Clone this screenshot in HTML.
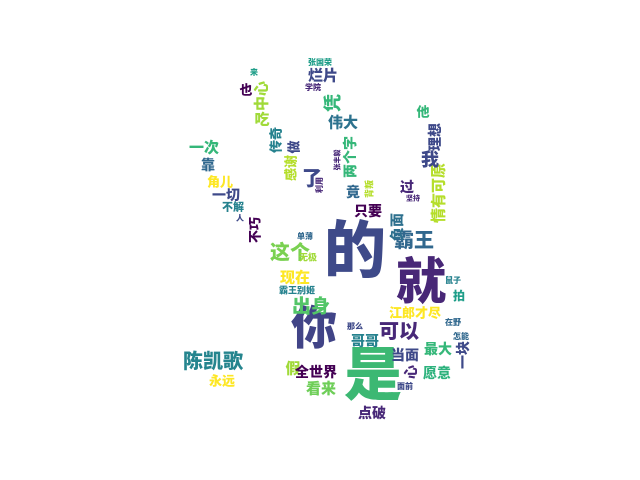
<!DOCTYPE html>
<html><head><meta charset="utf-8">
<style>
body{margin:0;background:#fff}
#cloud{position:relative;width:640px;height:480px;overflow:hidden;background:#fff}
#cloud span{position:absolute;white-space:nowrap;font-family:"Liberation Sans","Noto Sans CJK SC",sans-serif;font-weight:900;line-height:1;transform:translate(-50%,-50%)}
#cloud span.v{transform:translate(-50%,-50%) rotate(-90deg)}
</style></head>
<body>
<div id="cloud"></div>
<script>
const words=["的","就","是","你","陈凯歌","永远","出身","这个","现在","霸王别姬","无极","单薄","假","全世界","看来","可以","江郎才尽","哥哥","那么","在野","当面","最大","怎能","一块","心","愿意","面前","点破","霸王","负面","情有可原","过","坚持","我","理想","他","只要","竟","背叛","两个字","张丰毅","伟大","凭","烂片","张国荣","学院","来","也","中心","吃","传奇","做","感谢","了","利用","一次","靠","角儿","一切","不解","人","不巧","拍","鼠子"];
const sizes=[62,50,58,46,20,13,19,20,15,9,9,8,15,14,15,20,13,14,8,8,14,14,8,14,14,14,8,14,20,14,15,14,7,18,14,13,14,14,9,14,7,15,18,15,8,8,8,13,15,15,13,13,13,20,8,15,14,13,14,11,8,13,12,8];
const px=[355,421,373,314,213,222,311,290,295,297,308,305,293,316,321,399,415,365,355,453,405,438,461,463,411,437,405,372,414,397,439,407,413,430,435,423,368,353,370,350,338,343,333,323,320,313,254,246,262,262,276,294,291,312,320,204,208,220,226,233,240,255,459,453];
const py=[252,282,376,328,362,381,307,253,278,291,258,237,369,372,389,332,313,341,327,323,355,349,337,355,372,373,387,413,241,227,193,187,199,160,137,112,211,192,189,157,160,123,103,76,63,88,73,90,96,120,140,147,168,179,185,148,165,182,195,208,219,230,296,281];
const vert=[0,0,0,0,0,0,0,0,0,0,0,0,0,0,0,0,0,0,0,0,0,0,0,1,1,0,0,0,0,1,1,0,0,0,1,0,0,0,1,1,1,0,1,0,0,0,0,0,1,0,1,1,1,0,1,0,0,0,0,0,0,1,0,0];
const cols=["#3e4a89","#482777","#3cb873","#414487","#25858e","#fde725","#53c568","#7ad151","#fde725","#26828e","#a0da39","#31688e","#a0da39","#440154","#6ece58","#482878","#fde725","#26828e","#3e4989","#31688e","#3e4989","#35b779","#31688e","#3e4989","#482878","#2db27d","#3e4989","#482878","#31688e","#2d708e","#b5de2b","#482878","#482878","#3e4989","#3e4989","#35b779","#440154","#31688e","#b5de2b","#35b779","#482878","#2c728e","#35b779","#3e4989","#1f9e89","#482878","#1f9e89","#440154","#a0da39","#a0da39","#26828e","#3e4989","#b5de2b","#3e4989","#482878","#35b779","#31688e","#fde725","#3e4989","#26828e","#3e4989","#440154","#1f9e89","#26828e"];
const c=document.getElementById('cloud');
words.forEach((w,i)=>{
  const s=document.createElement('span');
  
  
  s.textContent=w;
  if(vert[i])s.className='v';
  s.style.left=px[i]+'px';s.style.top=py[i]+'px';
  s.style.fontSize=sizes[i]+'px';s.style.color=cols[i];
  c.appendChild(s);
});
</script>
</body></html>
